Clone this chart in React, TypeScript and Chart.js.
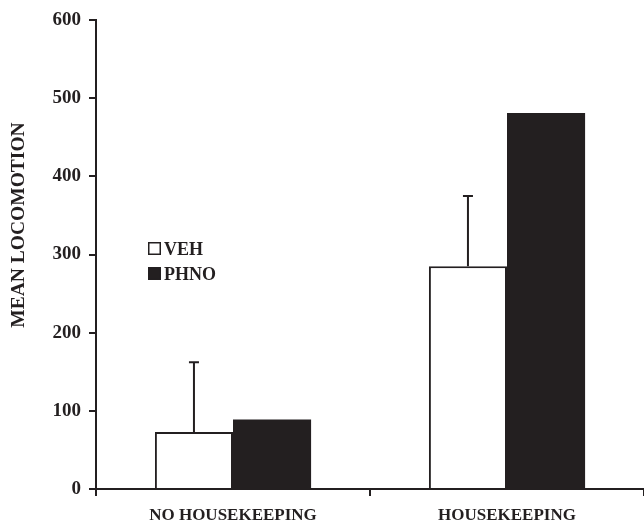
import React, { useEffect, useRef } from "react";
import { Chart, registerables } from "chart.js";

Chart.register(...registerables);

const categories = ["NO HOUSEKEEPING", "HOUSEKEEPING"];
const seriesLabels = ["VEH", "PHNO"];
const vehValues = [73, 285];
const phnoValues = [89, 481];
const vehErrors = [89, 90];
const yTicks = [0, 100, 200, 300, 400, 500, 600];
const yTitle = "MEAN LOCOMOTION";

const INK = "#231f20";
const FONT = "'Liberation Serif', 'Times New Roman', serif";

const errorBarPlugin = {
  id: "errorBars",
  afterDatasetsDraw(chart: any) {
    const ctx = chart.ctx;
    const meta = chart.getDatasetMeta(0);
    const y = chart.scales.y;
    ctx.save();
    ctx.strokeStyle = INK;
    ctx.lineWidth = 2;
    meta.data.forEach((bar: any, i: number) => {
      const v = vehValues[i];
      const top = y.getPixelForValue(v + vehErrors[i]);
      const base = y.getPixelForValue(v);
      ctx.beginPath();
      ctx.moveTo(bar.x, base);
      ctx.lineTo(bar.x, top);
      ctx.moveTo(bar.x - 5, top);
      ctx.lineTo(bar.x + 5, top);
      ctx.stroke();
    });
    ctx.restore();
  },
};

const legendPlugin = {
  id: "customLegend",
  afterDraw(chart: any) {
    const ctx = chart.ctx;
    ctx.save();
    const x0 = 148;
    const rows = [242, 267];
    chart.data.datasets.forEach((ds: any, i: number) => {
      const yy = rows[i];
      ctx.fillStyle = ds.backgroundColor;
      ctx.fillRect(x0, yy, 13, 13);
      ctx.strokeStyle = INK;
      ctx.lineWidth = 1.5;
      ctx.strokeRect(x0 + 0.75, yy + 0.75, 11.5, 11.5);
      ctx.fillStyle = INK;
      ctx.font = `bold 18px ${FONT}`;
      ctx.textBaseline = "alphabetic";
      ctx.textAlign = "left";
      ctx.fillText(ds.label, x0 + 16, yy + 13);
    });
    // y-axis title
    ctx.translate(19, 225);
    ctx.rotate(-Math.PI / 2);
    ctx.font = `bold 19.5px ${FONT}`;
    ctx.textAlign = "center";
    ctx.textBaseline = "middle";
    ctx.fillStyle = INK;
    ctx.fillText(yTitle, 0, 0);
    ctx.restore();
  },
};

export default function App() {
  const ref = useRef<HTMLCanvasElement | null>(null);
  useEffect(() => {
    document.body.style.margin = "0";
    const chart = new Chart(ref.current as HTMLCanvasElement, {
      type: "bar",
      data: {
        labels: categories,
        datasets: [
          {
            label: seriesLabels[0],
            data: vehValues,
            backgroundColor: "#ffffff",
            borderColor: INK,
            borderWidth: 2,
            categoryPercentage: 0.57,
            barPercentage: 1,
          },
          {
            label: seriesLabels[1],
            data: phnoValues,
            backgroundColor: INK,
            borderColor: INK,
            borderWidth: 0,
            categoryPercentage: 0.57,
            barPercentage: 1,
          },
        ],
      },
      options: {
        responsive: false,
        animation: false,
        layout: { padding: { top: 20, right: 0, left: 0, bottom: 0 } },
        plugins: { legend: { display: false }, tooltip: { enabled: false } },
        scales: {
          x: {
            grid: {
              display: true,
              drawOnChartArea: false,
              drawTicks: true,
              tickLength: 7,
              color: INK,
              lineWidth: 2,
              offset: true,
            },
            border: { display: true, color: INK, width: 2 },
            ticks: {
              color: INK,
              font: { family: FONT, weight: "bold", size: 17 },
              padding: 9,
              maxRotation: 0,
            },
            afterFit: (s: any) => {
              s.height = 34;
            },
          },
          y: {
            min: 0,
            max: 600,
            afterBuildTicks: (s: any) => {
              s.ticks = yTicks.map((v) => ({ value: v }));
            },
            grid: {
              display: true,
              drawOnChartArea: false,
              drawTicks: true,
              tickLength: 7,
              color: INK,
              lineWidth: 2,
            },
            border: { display: true, color: INK, width: 2 },
            ticks: {
              color: INK,
              font: { family: FONT, weight: "bold", size: 19 },
              padding: 8,
            },
            afterFit: (s: any) => {
              s.width = 96;
            },
          },
        },
      },
      plugins: [errorBarPlugin, legendPlugin],
    });
    return () => chart.destroy();
  }, []);
  return <canvas ref={ref} width={644} height={523} />;
}
